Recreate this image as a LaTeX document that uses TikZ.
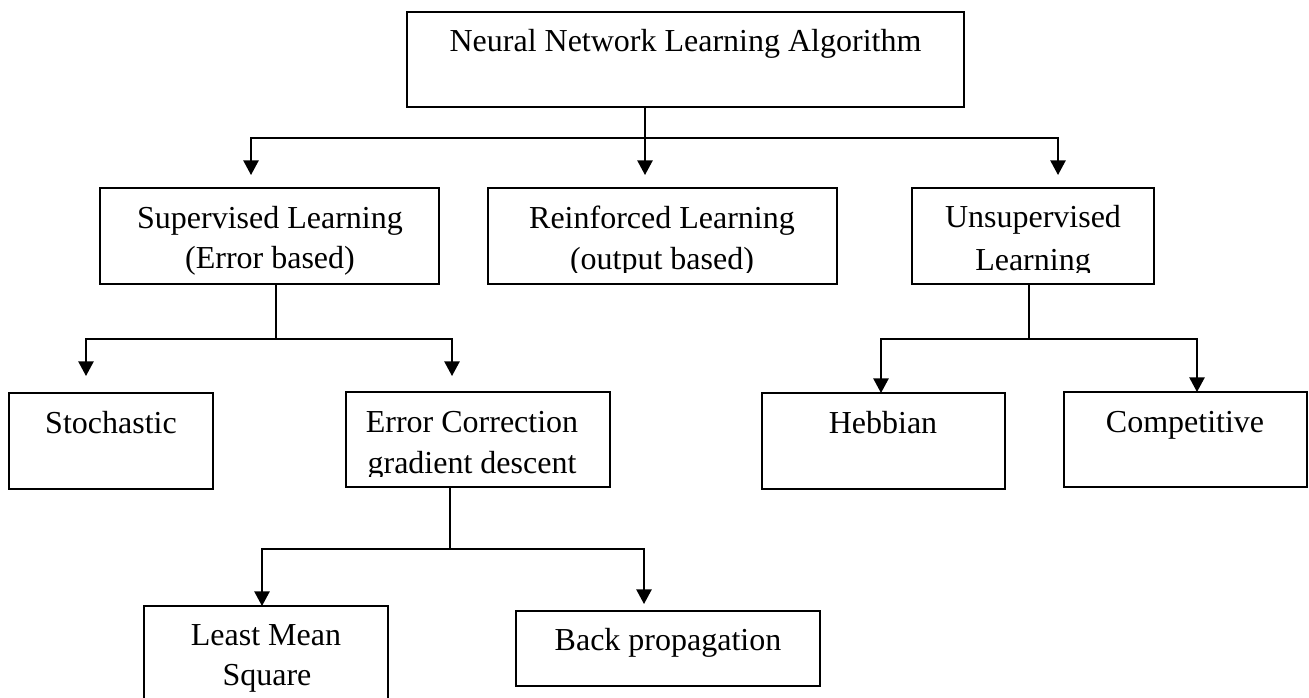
\documentclass[tikz,border=0pt]{standalone}
\usepackage{fontspec}
\setmainfont{Liberation Serif}
\usetikzlibrary{arrows.meta,fit}
\begin{document}
\begin{tikzpicture}[x=0.75pt,y=-0.75pt,
  box/.style={draw, line width=1.2pt, inner sep=0pt},
  lbl/.style={anchor=base, inner sep=0pt, font=\fontsize{24}{30}\selectfont},
  wire/.style={line width=1.2pt},
  arr/.style={wire, -{Triangle[length=11pt,width=11.5pt]}}]
\clip (0,0) rectangle (1309,698);

% root
\node[box, fit={(407,12)(964,107)}] (top) {};
\node[lbl] (top-t) at (685.5,52) {Neural Network Learning Algorithm};

% first level
\node[box, fit={(100,188)(439,284)}] (sup) {};
\node[lbl] (sup-a) at (270,229) {Supervised Learning};
\node[lbl] (sup-b) at (270,269) {(Error based)};

\node[box, fit={(488,188)(837,284)}] (rei) {};
\node[lbl] (rei-a) at (662,229) {Reinforced Learning};
\begin{scope}
  \clip (488,188) rectangle (837,273);
  \node[lbl] (rei-b) at (662,270) {(output based)};
\end{scope}

\node[box, fit={(912,188)(1154,284)}] (uns) {};
\node[lbl] (uns-a) at (1033,228) {Unsupervised};
\begin{scope}
  \clip (912,188) rectangle (1154,273);
  \node[lbl] (uns-b) at (1033,271) {Learning};
\end{scope}

% second level
\node[box, fit={(9,393)(213,489)}] (sto) {};
\node[lbl] (sto-t) at (111,433) {Stochastic};

\node[box, fit={(346,392)(610,487)}] (err) {};
\node[lbl] (err-a) at (472,432) {Error Correction};
\begin{scope}
  \clip (346,392) rectangle (610,476);
  \node[lbl] (err-b) at (472,473) {gradient descent};
\end{scope}

\node[box, fit={(762,393)(1005,489)}] (heb) {};
\node[lbl] (heb-t) at (883,433) {Hebbian};

\node[box, fit={(1064,392)(1307,487)}] (com) {};
\node[lbl] (com-t) at (1185,432) {Competitive};

% third level
\node[box, fit={(144,606)(388,720)}] (lms) {};
\node[lbl] (lms-a) at (266,645) {Least Mean};
\node[lbl] (lms-b) at (267,685) {Square};

\node[box, fit={(516,611)(820,686)}] (bp) {};
\node[lbl] (bp-t) at (668,650) {Back propagation};

% junctions and arrow ends
\coordinate (j0) at (645,138);
\coordinate (t-sup) at (251,175);
\coordinate (t-rei) at (645,175);
\coordinate (t-uns) at (1058,175);
\coordinate (j1) at (276,339);
\coordinate (t-sto) at (86,376);
\coordinate (t-err) at (452,376);
\coordinate (j2) at (1029,339);
\coordinate (t-heb) at (881,393);
\coordinate (t-com) at (1197,392);
\coordinate (j3) at (450,549);
\coordinate (t-lms) at (262,606);
\coordinate (t-bp) at (644,604);

% connectors
\draw[wire] (top.south -| j0) -- (j0);
\draw[arr] (j0) -| (t-sup);
\draw[arr] (j0) -- (t-rei);
\draw[arr] (j0) -| (t-uns);

\draw[wire] (sup.south -| j1) -- (j1);
\draw[arr] (j1) -| (t-sto);
\draw[arr] (j1) -| (t-err);

\draw[wire] (uns.south -| j2) -- (j2);
\draw[arr] (j2) -| (t-heb);
\draw[arr] (j2) -| (t-com);

\draw[wire] (err.south -| j3) -- (j3);
\draw[arr] (j3) -| (t-lms);
\draw[arr] (j3) -| (t-bp);
\end{tikzpicture}
\end{document}
